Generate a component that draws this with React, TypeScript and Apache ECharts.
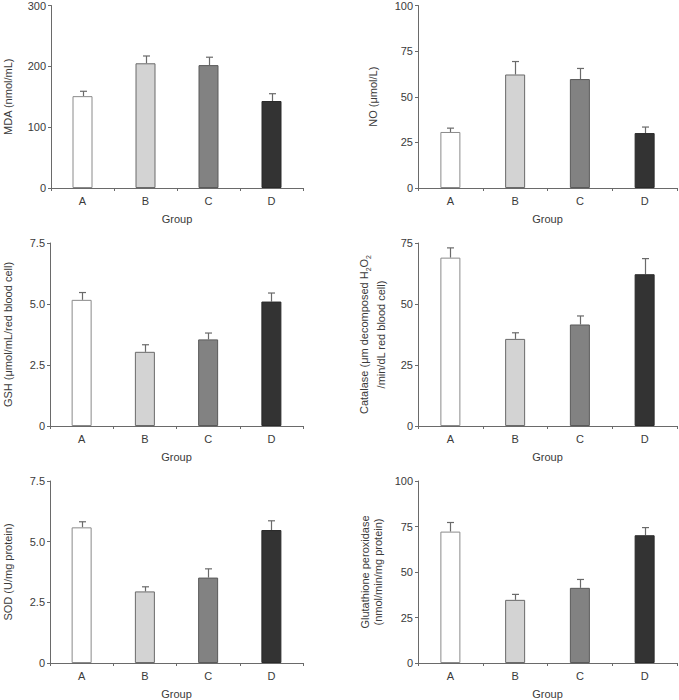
import React, { useEffect, useRef } from "react";
import * as echarts from "echarts";

const groups = ["A", "B", "C", "D"];
const mdaMean = [151, 205, 202, 143];
const mdaErr = [159, 217, 215, 155];
const noMean = [30.7, 62.2, 59.7, 30.1];
const noErr = [32.8, 69.3, 65.5, 33.4];
const gshMean = [5.17, 3.04, 3.55, 5.1];
const gshErr = [5.47, 3.33, 3.81, 5.45];
const catMean = [69.0, 35.7, 41.6, 62.2];
const catErr = [73.0, 38.2, 45.1, 68.6];
const sodMean = [5.59, 2.95, 3.52, 5.48];
const sodErr = [5.82, 3.14, 3.88, 5.86];
const gpxMean = [72.2, 34.7, 41.3, 70.2];
const gpxErr = [77.2, 37.7, 45.9, 74.4];

const barColors = ["#ffffff", "#d3d3d3", "#828282", "#333333"];
const barBorders = ["#8a8a8a", "#6a6a6a", "#5a5a5a", "#2a2a2a"];

const FONT = "'Liberation Sans', Arial, sans-serif";
const TXT = "#3a3a3a";
const AXIS = "#6a6a6a";

type Panel = {
  mean: number[];
  err: number[];
  max: number;
  interval: number;
  name: string;
  nameGap: number;
  fmt?: (v: number) => string;
  rich?: boolean;
};

const panels: Panel[] = [
  { mean: mdaMean, err: mdaErr, max: 300, interval: 100, name: "MDA (nmol/mL)", nameGap: 37 },
  { mean: noMean, err: noErr, max: 100, interval: 25, name: "NO (\u03bcmol/L)", nameGap: 39 },
  { mean: gshMean, err: gshErr, max: 7.5, interval: 2.5, name: "GSH (\u03bcmol/mL/red blood cell)", nameGap: 36, fmt: (v) => (v === 0 ? "0" : v.toFixed(1)) },
  { mean: catMean, err: catErr, max: 75, interval: 25, name: "{n|Catalase (\u03bcm decomposed H}{s|2}{n|O}{s|2}\n{n|/min/dL red blood cell)}", nameGap: 29, rich: true },
  { mean: sodMean, err: sodErr, max: 7.5, interval: 2.5, name: "SOD (U/mg protein)", nameGap: 36, fmt: (v) => (v === 0 ? "0" : v.toFixed(1)) },
  { mean: gpxMean, err: gpxErr, max: 100, interval: 25, name: "Glutathione peroxidase\n(nmol/min/mg protein)", nameGap: 34 },
];

const lefts = [44, 418];
const tops = [5, 243, 481];

export default function App() {
  const ref = useRef<HTMLDivElement>(null);
  useEffect(() => {
    if (!ref.current) return;
    const chart = echarts.init(ref.current, undefined, { renderer: "svg" });
    const grid: any[] = [];
    const xAxis: any[] = [];
    const yAxis: any[] = [];
    const series: any[] = [];
    panels.forEach((p, i) => {
      const col = i % 2;
      const row = Math.floor(i / 2);
      grid.push({ left: lefts[col], top: tops[row], width: 259, height: 183, containLabel: false });
      xAxis.push({
        type: "category",
        gridIndex: i,
        data: groups,
        name: "Group",
        nameLocation: "middle",
        nameGap: 25,
        nameTextStyle: { color: TXT, fontSize: 11, fontFamily: FONT },
        axisLine: { lineStyle: { color: AXIS, width: 1 } },
        axisTick: { show: true, length: 3, lineStyle: { color: AXIS } },
        axisLabel: { color: TXT, fontSize: 11, fontFamily: FONT, margin: 7 },
      });
      yAxis.push({
        type: "value",
        gridIndex: i,
        min: 0,
        max: p.max,
        interval: p.interval,
        name: p.name,
        nameLocation: "middle",
        nameGap: p.nameGap,
        nameRotate: 90,
        nameTextStyle: p.rich
          ? {
              color: TXT,
              fontFamily: FONT,
              fontSize: 11,
              lineHeight: 17,
              rich: {
                n: { fontSize: 11, fontFamily: FONT, color: TXT, lineHeight: 17 },
                s: { fontSize: 7, fontFamily: FONT, color: TXT, lineHeight: 12, verticalAlign: "bottom" },
              },
            }
          : { color: TXT, fontSize: 11, fontFamily: FONT, lineHeight: 13 },
        splitLine: { show: false },
        axisLine: { show: true, lineStyle: { color: AXIS, width: 1 } },
        axisTick: { show: true, length: 3, lineStyle: { color: AXIS } },
        axisLabel: {
          color: TXT,
          fontSize: 11,
          fontFamily: FONT,
          margin: 5,
          formatter: p.fmt ? p.fmt : (v: number) => String(v),
        },
      });
      series.push({
        type: "bar",
        xAxisIndex: i,
        yAxisIndex: i,
        barWidth: 20,
        data: p.mean.map((v, j) => ({
          value: v,
          itemStyle: { color: barColors[j], borderColor: barBorders[j], borderWidth: 1 },
        })),
      });
      series.push({
        type: "custom",
        xAxisIndex: i,
        yAxisIndex: i,
        z: 1,
        data: p.mean.map((v, j) => [j, v, p.err[j]]),
        renderItem: (params: any, api: any) => {
          const x = api.value(0);
          const lo = api.coord([x, api.value(1)]);
          const hi = api.coord([x, api.value(2)]);
          const cx = Math.round(lo[0]) + 0.5;
          return {
            type: "group",
            children: [
              { type: "line", shape: { x1: cx, y1: lo[1], x2: cx, y2: hi[1] }, style: { stroke: "#6a6a6a", lineWidth: 1.2 } },
              { type: "line", shape: { x1: cx - 3.5, y1: hi[1], x2: cx + 3.5, y2: hi[1] }, style: { stroke: "#6a6a6a", lineWidth: 1.2 } },
            ],
          };
        },
      });
    });
    chart.setOption({ animation: false, grid, xAxis, yAxis, series });
    return () => chart.dispose();
  }, []);
  return <div ref={ref} style={{ width: 679, height: 700, position: "absolute", left: 0, top: 0 }} />;
}
